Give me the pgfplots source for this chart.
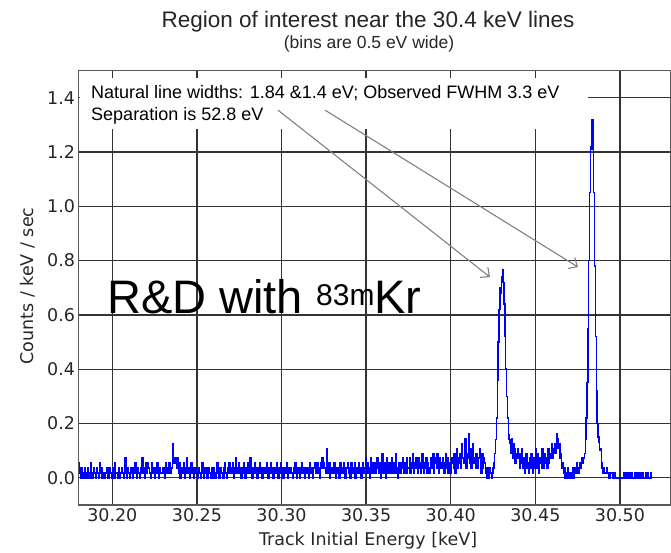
\documentclass[border=0pt]{standalone}
\usepackage{pgfplots}
\pgfplotsset{compat=1.18}
\usepackage{fontspec}
\setmainfont{Liberation Sans}
\newfontfamily\dejavu{DejaVu Sans}
\usetikzlibrary{arrows.meta}
\definecolor{pureblue}{rgb}{0,0,1}
\begin{document}
\begin{tikzpicture}
\path[use as bounding box] (0,0) rectangle (671pt,552pt);
\begin{axis}[
  at={(78.5pt,47.1pt)}, anchor=south west,
  scale only axis, width=592.2pt, height=434.4pt,
  xmin=30.18, xmax=30.53, ymin=-0.1, ymax=1.5,
  xtick={30.2,30.25,30.3,30.35,30.4,30.45,30.5},
  ytick={0,0.2,0.4,0.6,0.8,1.0,1.2,1.4},
  scaled x ticks=false, scaled y ticks=false,
  xticklabel style={/pgf/number format/.cd, fixed, fixed zerofill, precision=2},
  yticklabel style={/pgf/number format/.cd, fixed, fixed zerofill, precision=1},
  /pgf/number format/assume math mode=true,
  tick label style={font=\dejavu\fontsize{17.5}{17.5}\selectfont, text=black!85},
  grid=major,
  major grid style={black!80, line width=1.3pt},
  axis line style={black!65, line width=1.2pt},
  tick align=inside, major tick length=6pt,
  tick style={black!80, line width=1pt},
  xlabel={Track Initial Energy [keV]},
  ylabel={Counts / keV / sec},
  label style={font=\dejavu\fontsize{17.5}{17.5}\selectfont, text=black!85},
  xlabel style={at={(axis description cs:0.489,-0.0944)}, anchor=base},
  ylabel style={at={(axis description cs:-0.0853,0.504)}, anchor=center},
  clip=true,
]
\fill[white] (axis cs:30.1808,1.284) rectangle (axis cs:30.4811,1.474);
\addplot[const plot, pureblue, line width=1.5pt] coordinates {
(30.1800,0.054)(30.1805,0.018)(30.1810,0.036)(30.1815,0)(30.1820,0.036)(30.1825,0.018)(30.1830,0)(30.1835,0.036)(30.1840,0.018)(30.1845,0)
(30.1850,0.018)(30.1855,0.036)(30.1860,0)(30.1865,0.018)(30.1870,0.054)(30.1875,0)(30.1880,0.018)(30.1885,0)(30.1890,0.036)(30.1895,0.018)
(30.1900,0)(30.1905,0.036)(30.1910,0.018)(30.1915,0.018)(30.1920,0)(30.1925,0.054)(30.1930,0.018)(30.1935,0.036)(30.1940,0)(30.1945,0.018)
(30.1950,0.018)(30.1955,0)(30.1960,0.018)(30.1965,0.036)(30.1970,0.018)(30.1975,0)(30.1980,0.036)(30.1985,0.018)(30.1990,0.018)(30.1995,0)
(30.2000,0.036)(30.2005,0.018)(30.2010,0)(30.2015,0.054)(30.2020,0.018)(30.2025,0.018)(30.2030,0)(30.2035,0.036)(30.2040,0)(30.2045,0.018)
(30.2050,0.018)(30.2055,0.036)(30.2060,0.018)(30.2065,0)(30.2070,0.018)(30.2075,0.072)(30.2080,0.018)(30.2085,0)(30.2090,0.036)(30.2095,0.018)
(30.2100,0)(30.2105,0.018)(30.2110,0.036)(30.2115,0.018)(30.2120,0)(30.2125,0.036)(30.2130,0.018)(30.2135,0.054)(30.2140,0.018)(30.2145,0)
(30.2150,0.036)(30.2155,0.018)(30.2160,0)(30.2165,0.018)(30.2170,0.036)(30.2175,0.072)(30.2180,0.018)(30.2185,0.036)(30.2190,0)(30.2195,0.054)
(30.2200,0.018)(30.2205,0.036)(30.2210,0.054)(30.2215,0.036)(30.2220,0.018)(30.2225,0)(30.2230,0.054)(30.2235,0.018)(30.2240,0.036)(30.2245,0.018)
(30.2250,0)(30.2255,0.036)(30.2260,0.018)(30.2265,0.054)(30.2270,0.018)(30.2275,0)(30.2280,0.036)(30.2285,0.018)(30.2290,0.018)(30.2295,0.036)
(30.2300,0.018)(30.2305,0.036)(30.2310,0)(30.2315,0.054)(30.2320,0.018)(30.2325,0.036)(30.2330,0.018)(30.2335,0.054)(30.2340,0.036)(30.2345,0.018)
(30.2350,0.036)(30.2355,0.126)(30.2360,0.072)(30.2365,0.054)(30.2370,0.072)(30.2375,0.072)(30.2380,0.036)(30.2385,0.072)(30.2390,0.018)(30.2395,0.054)
(30.2400,0)(30.2405,0.018)(30.2410,0.036)(30.2415,0.018)(30.2420,0.054)(30.2425,0)(30.2430,0.018)(30.2435,0.036)(30.2440,0.072)(30.2445,0.018)
(30.2450,0.036)(30.2455,0)(30.2460,0.018)(30.2465,0.054)(30.2470,0.018)(30.2475,0.036)(30.2480,0)(30.2485,0.018)(30.2490,0.036)(30.2495,0.018)
(30.2500,0.018)(30.2505,0)(30.2510,0.036)(30.2515,0.018)(30.2520,0)(30.2525,0.018)(30.2530,0.054)(30.2535,0.018)(30.2540,0)(30.2545,0.036)
(30.2550,0.018)(30.2555,0.036)(30.2560,0)(30.2565,0.018)(30.2570,0.036)(30.2575,0.018)(30.2580,0)(30.2585,0.036)(30.2590,0.018)(30.2595,0)
(30.2600,0.036)(30.2605,0.018)(30.2610,0)(30.2615,0.018)(30.2620,0.054)(30.2625,0.036)(30.2630,0)(30.2635,0.018)(30.2640,0.036)(30.2645,0.018)
(30.2650,0.018)(30.2655,0)(30.2660,0.036)(30.2665,0.054)(30.2670,0.018)(30.2675,0)(30.2680,0.018)(30.2685,0.036)(30.2690,0.054)(30.2695,0.018)
(30.2700,0.036)(30.2705,0.018)(30.2710,0.054)(30.2715,0)(30.2720,0.036)(30.2725,0.018)(30.2730,0.072)(30.2735,0.018)(30.2740,0.036)(30.2745,0.054)
(30.2750,0.018)(30.2755,0.036)(30.2760,0)(30.2765,0.036)(30.2770,0.018)(30.2775,0.054)(30.2780,0.018)(30.2785,0)(30.2790,0.036)(30.2795,0.018)
(30.2800,0.054)(30.2805,0.018)(30.2810,0.036)(30.2815,0.072)(30.2820,0.018)(30.2825,0)(30.2830,0.036)(30.2835,0.018)(30.2840,0.054)(30.2845,0.036)
(30.2850,0.018)(30.2855,0)(30.2860,0.036)(30.2865,0.018)(30.2870,0.054)(30.2875,0.018)(30.2880,0.036)(30.2885,0)(30.2890,0.018)(30.2895,0.036)
(30.2900,0.036)(30.2905,0.018)(30.2910,0.054)(30.2915,0.018)(30.2920,0)(30.2925,0.036)(30.2930,0.018)(30.2935,0.054)(30.2940,0.018)(30.2945,0.036)
(30.2950,0)(30.2955,0.018)(30.2960,0.036)(30.2965,0.018)(30.2970,0.054)(30.2975,0.018)(30.2980,0)(30.2985,0.036)(30.2990,0.018)(30.2995,0.054)
(30.3000,0.018)(30.3005,0.036)(30.3010,0)(30.3015,0.018)(30.3020,0.036)(30.3025,0.018)(30.3030,0.054)(30.3035,0)(30.3040,0.018)(30.3045,0.036)
(30.3050,0.036)(30.3055,0.018)(30.3060,0.018)(30.3065,0)(30.3070,0.036)(30.3075,0.018)(30.3080,0.054)(30.3085,0.018)(30.3090,0)(30.3095,0.036)
(30.3100,0.018)(30.3105,0)(30.3110,0.036)(30.3115,0.018)(30.3120,0.054)(30.3125,0.036)(30.3130,0.018)(30.3135,0)(30.3140,0.036)(30.3145,0.018)
(30.3150,0.036)(30.3155,0.018)(30.3160,0)(30.3165,0.054)(30.3170,0.018)(30.3175,0.036)(30.3180,0.018)(30.3185,0)(30.3190,0.036)(30.3195,0.054)
(30.3200,0.018)(30.3205,0.036)(30.3210,0.054)(30.3215,0.018)(30.3220,0.036)(30.3225,0)(30.3230,0.054)(30.3235,0.036)(30.3240,0.072)(30.3245,0.036)
(30.3250,0.054)(30.3255,0.036)(30.3260,0.018)(30.3265,0.108)(30.3270,0.036)(30.3275,0.018)(30.3280,0.054)(30.3285,0)(30.3290,0.036)(30.3295,0.018)
(30.3300,0.036)(30.3305,0.018)(30.3310,0.054)(30.3315,0.018)(30.3320,0)(30.3325,0.036)(30.3330,0.018)(30.3335,0.036)(30.3340,0)(30.3345,0.054)
(30.3350,0.018)(30.3355,0.036)(30.3360,0.018)(30.3365,0.054)(30.3370,0.036)(30.3375,0)(30.3380,0.018)(30.3385,0.036)(30.3390,0.054)(30.3395,0.018)
(30.3400,0.036)(30.3405,0)(30.3410,0.054)(30.3415,0.018)(30.3420,0.036)(30.3425,0.018)(30.3430,0.054)(30.3435,0)(30.3440,0.036)(30.3445,0.018)
(30.3450,0.018)(30.3455,0.054)(30.3460,0.036)(30.3465,0.018)(30.3470,0)(30.3475,0.036)(30.3480,0.054)(30.3485,0.018)(30.3490,0.036)(30.3495,0.072)
(30.3500,0.036)(30.3505,0.018)(30.3510,0.054)(30.3515,0.036)(30.3520,0)(30.3525,0.072)(30.3530,0.018)(30.3535,0.036)(30.3540,0.054)(30.3545,0.018)
(30.3550,0.054)(30.3555,0.018)(30.3560,0.036)(30.3565,0.072)(30.3570,0.036)(30.3575,0.018)(30.3580,0.054)(30.3585,0)(30.3590,0.036)(30.3595,0.09)
(30.3600,0.018)(30.3605,0.054)(30.3610,0.036)(30.3615,0)(30.3620,0.072)(30.3625,0.036)(30.3630,0.018)(30.3635,0.054)(30.3640,0.036)(30.3645,0.018)
(30.3650,0.072)(30.3655,0.018)(30.3660,0.036)(30.3665,0.054)(30.3670,0.018)(30.3675,0.09)(30.3680,0.036)(30.3685,0)(30.3690,0.054)(30.3695,0.036)
(30.3700,0.018)(30.3705,0.054)(30.3710,0.036)(30.3715,0.072)(30.3720,0.018)(30.3725,0.036)(30.3730,0.054)(30.3735,0.018)(30.3740,0.072)(30.3745,0.036)
(30.3750,0.036)(30.3755,0.072)(30.3760,0.018)(30.3765,0.054)(30.3770,0.036)(30.3775,0.09)(30.3780,0.018)(30.3785,0.054)(30.3790,0.036)(30.3795,0.072)
(30.3800,0.054)(30.3805,0.018)(30.3810,0.072)(30.3815,0.036)(30.3820,0.018)(30.3825,0.054)(30.3830,0.09)(30.3835,0.036)(30.3840,0.018)(30.3845,0.054)
(30.3850,0.036)(30.3855,0.072)(30.3860,0.018)(30.3865,0.054)(30.3870,0.036)(30.3875,0.018)(30.3880,0.072)(30.3885,0.054)(30.3890,0.036)(30.3895,0.09)
(30.3900,0.018)(30.3905,0.054)(30.3910,0.072)(30.3915,0.036)(30.3920,0.09)(30.3925,0.054)(30.3930,0.018)(30.3935,0.072)(30.3940,0.036)(30.3945,0.054)
(30.3950,0.072)(30.3955,0.036)(30.3960,0.018)(30.3965,0.054)(30.3970,0.09)(30.3975,0.036)(30.3980,0.072)(30.3985,0.018)(30.3990,0.054)(30.3995,0.036)
(30.4000,0.018)(30.4005,0.072)(30.4010,0.054)(30.4015,0.036)(30.4020,0.09)(30.4025,0.018)(30.4030,0.054)(30.4035,0.108)(30.4040,0.036)(30.4045,0.072)
(30.4050,0.054)(30.4055,0.09)(30.4060,0.036)(30.4065,0.126)(30.4070,0.072)(30.4075,0.054)(30.4080,0.108)(30.4085,0.144)(30.4090,0.036)(30.4095,0.09)
(30.4100,0.072)(30.4105,0.162)(30.4110,0.054)(30.4115,0.108)(30.4120,0.036)(30.4125,0.09)(30.4130,0.126)(30.4135,0.054)(30.4140,0.072)(30.4145,0.036)
(30.4150,0.09)(30.4155,0.054)(30.4160,0.036)(30.4165,0.072)(30.4170,0.108)(30.4175,0.054)(30.4180,0.018)(30.4185,0.09)(30.4190,0.036)(30.4195,0.072)
(30.4200,0.054)(30.4205,0.018)(30.4210,0)(30.4215,0.036)(30.4220,0.018)(30.4225,0)(30.4230,0.036)(30.4235,0.018)(30.4240,0)(30.4245,0.018)
(30.4250,0.036)(30.4255,0.054)(30.4260,0.09)(30.4265,0.14)(30.4270,0.22)(30.4275,0.36)(30.4280,0.50)(30.4285,0.62)(30.4290,0.70)(30.4295,0.68)
(30.4300,0.74)(30.4305,0.765)(30.4310,0.72)(30.4315,0.64)(30.4320,0.52)(30.4325,0.40)(30.4330,0.30)(30.4335,0.22)(30.4340,0.16)(30.4345,0.14)
(30.4350,0.126)(30.4355,0.09)(30.4360,0.144)(30.4365,0.072)(30.4370,0.126)(30.4375,0.108)(30.4380,0.054)(30.4385,0.09)(30.4390,0.072)(30.4395,0.108)
(30.4400,0.072)(30.4405,0.036)(30.4410,0.09)(30.4415,0.054)(30.4420,0.108)(30.4425,0.036)(30.4430,0.072)(30.4435,0.018)(30.4440,0.054)(30.4445,0.09)
(30.4450,0.036)(30.4455,0.054)(30.4460,0.018)(30.4465,0.072)(30.4470,0.036)(30.4475,0.09)(30.4480,0.054)(30.4485,0.018)(30.4490,0.072)(30.4495,0.036)
(30.4500,0.108)(30.4505,0.054)(30.4510,0.036)(30.4515,0.09)(30.4520,0.018)(30.4525,0.072)(30.4530,0.054)(30.4535,0.036)(30.4540,0.108)(30.4545,0.054)
(30.4550,0.036)(30.4555,0.09)(30.4560,0.054)(30.4565,0.072)(30.4570,0.036)(30.4575,0.108)(30.4580,0.054)(30.4585,0.09)(30.4590,0.072)(30.4595,0.126)
(30.4600,0.072)(30.4605,0.09)(30.4610,0.108)(30.4615,0.126)(30.4620,0.09)(30.4625,0.162)(30.4630,0.144)(30.4635,0.108)(30.4640,0.126)(30.4645,0.072)
(30.4650,0.09)(30.4655,0.036)(30.4660,0.054)(30.4665,0.018)(30.4670,0.036)(30.4675,0)(30.4680,0.018)(30.4685,0)(30.4690,0.036)(30.4695,0.018)
(30.4700,0)(30.4705,0.018)(30.4710,0)(30.4715,0)(30.4720,0.036)(30.4725,0)(30.4730,0.018)(30.4735,0.036)(30.4740,0.018)(30.4745,0.054)
(30.4750,0.036)(30.4755,0.018)(30.4760,0.054)(30.4765,0.036)(30.4770,0.054)(30.4775,0.072)(30.4780,0.054)(30.4785,0.072)(30.4790,0.09)(30.4795,0.14)
(30.4800,0.22)(30.4805,0.35)(30.4810,0.55)(30.4815,0.80)(30.4820,1.05)(30.4825,1.22)(30.4830,1.21)(30.4835,1.32)(30.4840,1.30)(30.4845,1.05)
(30.4850,0.78)(30.4855,0.52)(30.4860,0.32)(30.4865,0.20)(30.4870,0.15)(30.4875,0.13)(30.4880,0.10)(30.4885,0.108)(30.4890,0.054)(30.4895,0.036)
(30.4900,0.018)(30.4905,0.036)(30.4910,0.018)(30.4915,0.018)(30.4920,0.036)(30.4925,0.018)(30.4930,0.018)(30.4935,0)(30.4940,0.018)(30.4945,0.018)
(30.4950,0.018)(30.4955,0.018)(30.4960,0)(30.4965,0.018)(30.4970,0)(30.4975,0)(30.4980,0)(30.4985,0)(30.4990,0)(30.4995,0)
(30.5000,0)(30.5005,0)(30.5010,0)(30.5015,0)(30.5020,0.018)(30.5025,0)(30.5030,0)(30.5035,0.018)(30.5040,0.018)(30.5045,0)
(30.5050,0.018)(30.5055,0)(30.5060,0)(30.5065,0.018)(30.5070,0)(30.5075,0)(30.5080,0)(30.5085,0.018)(30.5090,0)(30.5095,0.018)
(30.5100,0)(30.5105,0)(30.5110,0.018)(30.5115,0)(30.5120,0)(30.5125,0.018)(30.5130,0)(30.5135,0.018)(30.5140,0)(30.5145,0)
(30.5150,0.018)(30.5155,0)(30.5160,0)(30.5165,0.018)(30.5170,0)(30.5175,0)(30.5180,0.018)(30.5185,0)(30.5190,0)
};
\node[anchor=base west, font=\fontsize{18}{18}\selectfont, inner sep=0pt] at (axis cs:30.1874,1.397) {Natural line widths: 1.84 \&1.4 eV; Observed FWHM 3.3 eV};
\node[anchor=base west, font=\fontsize{18}{18}\selectfont, inner sep=0pt] at (axis cs:30.1874,1.3175) {Separation is 52.8 eV};
\draw[black!50, line width=1.1pt, -{Straight Barb[length=7pt,width=13pt]}] (axis cs:30.2979,1.354) -- (axis cs:30.4232,0.739);
\draw[black!50, line width=1.1pt, -{Straight Barb[length=7pt,width=13pt]}] (axis cs:30.3257,1.354) -- (axis cs:30.4752,0.776);
\node[anchor=base west, inner sep=0pt, font=\fontsize{47}{47}\selectfont] at (axis cs:30.1969,0.6066) {R\&D with \raisebox{8pt}{\fontsize{30}{30}\selectfont 83m}Kr};
\end{axis}
\node[anchor=base, font=\fontsize{22.5}{22.5}\selectfont, text=black!85] at (368pt,524pt) {Region of interest near the 30.4 keV lines};
\node[anchor=base, font=\fontsize{17.5}{17.5}\selectfont, text=black!85] at (369pt,503pt) {(bins are 0.5 eV wide)};
\end{tikzpicture}
\end{document}
